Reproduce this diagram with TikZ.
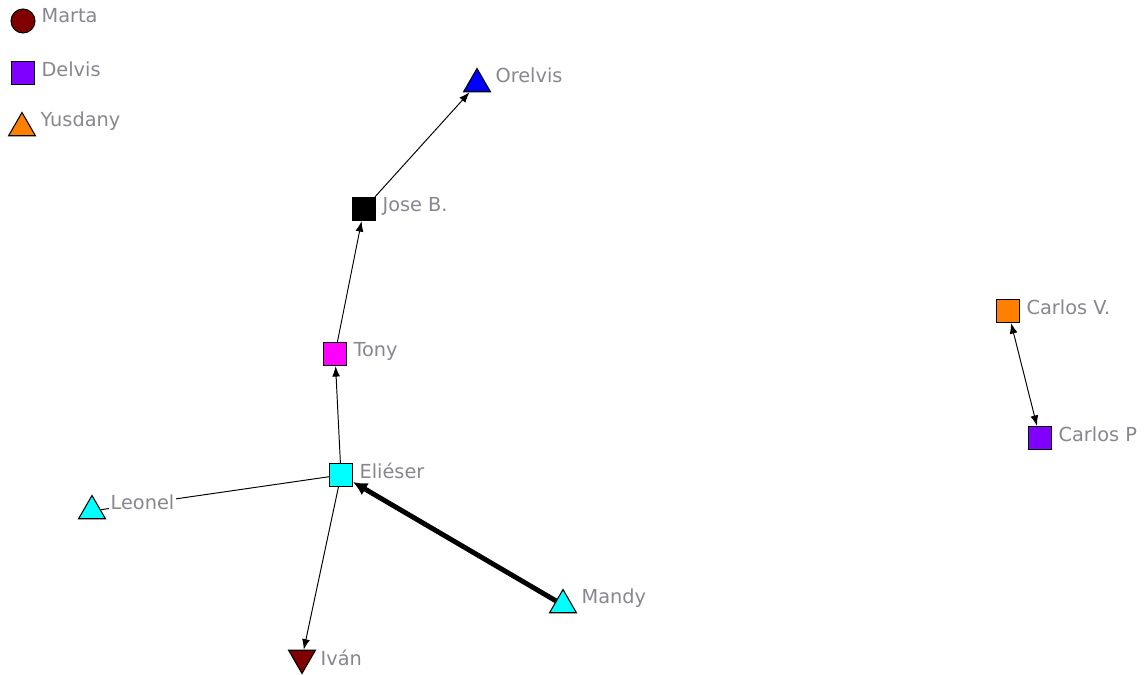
\documentclass[tikz,border=0pt]{standalone}
\usepackage{fontspec}
\newfontfamily\lblfont{DejaVu Sans}
\usetikzlibrary{arrows.meta,shapes.geometric}
\definecolor{ncyan}{RGB}{0,255,255}
\definecolor{nmagenta}{RGB}{255,0,255}
\definecolor{npurple}{RGB}{128,0,255}
\definecolor{norange}{RGB}{255,128,0}
\definecolor{nblue}{RGB}{0,0,255}
\definecolor{nmaroon}{RGB}{128,0,0}
\definecolor{lblgray}{RGB}{135,135,145}

\begin{document}
\begin{tikzpicture}[x=0.02cm, y=-0.02cm,
  sq/.style={rectangle, draw=black, line width=0.6pt,
             minimum size=0.46cm, inner sep=0pt},
  tri/.style={regular polygon, regular polygon sides=3, draw=black,
              line width=0.6pt, minimum size=0.62cm, inner sep=0pt},
  dtri/.style={tri, shape border rotate=180},
  dot/.style={circle, draw=black, line width=0.6pt,
              minimum size=0.48cm, inner sep=0pt},
  lbl/.style={anchor=north west, fill=white, inner xsep=1pt, inner ysep=0pt,
              text=lblgray, font=\lblfont\fontsize{11pt}{13pt}\selectfont},
  arr/.style={-{Latex[length=6pt,width=4.5pt]}, line width=0.55pt},
  barr/.style={-{Latex[length=8pt,width=8pt]}, line width=2.8pt}
]
\useasboundingbox (0,0) rectangle (1146,675);

% Legend
\node[dot, fill=nmaroon]  (marta)   at (23,21)  {};
\node[sq,  fill=npurple]  (delvis)  at (23,73)  {};
\node[tri, fill=norange]  (yusdany) at (22,128) {};

% Network nodes
\node[tri,  fill=nblue]    (orelvis) at (477,84)   {};
\node[sq,   fill=black]    (joseb)   at (364,209)  {};
\node[sq,   fill=nmagenta] (tony)    at (335,354)  {};
\node[sq,   fill=ncyan]    (elieser) at (341,475)  {};
\node[tri,  fill=ncyan]    (leonel)  at (92,511)   {};
\node[dtri, fill=nmaroon]  (ivan)    at (302,658)  {};
\node[tri,  fill=ncyan]    (mandy)   at (563,605)  {};
\node[sq,   fill=norange]  (carlosv) at (1008,311) {};
\node[sq,   fill=npurple]  (carlosp) at (1040,438) {};

% Edges
\draw[arr] (elieser) -- (tony);
\draw[arr] (tony) -- (joseb);
\draw[arr] (joseb) -- (orelvis);
\draw[arr] (elieser) -- (ivan);
\draw[line width=0.55pt] (elieser) -- (leonel);
\draw[barr] (mandy) -- (elieser);
\draw[arr, {Latex[length=6pt,width=4.5pt]}-{Latex[length=6pt,width=4.5pt]}] (carlosv) -- (carlosp);

% Labels
\foreach \n/\t in {marta/Marta, delvis/Delvis, yusdany/Yusdany,
                   orelvis/Orelvis, joseb/Jose B., tony/Tony,
                   elieser/Eliéser, leonel/Leonel, ivan/Iván, mandy/Mandy,
                   carlosv/Carlos V., carlosp/Carlos P}
  \node[lbl] (\n-lbl) at ([xshift=0.33cm]\n.north) {\t};
\end{tikzpicture}
\end{document}
